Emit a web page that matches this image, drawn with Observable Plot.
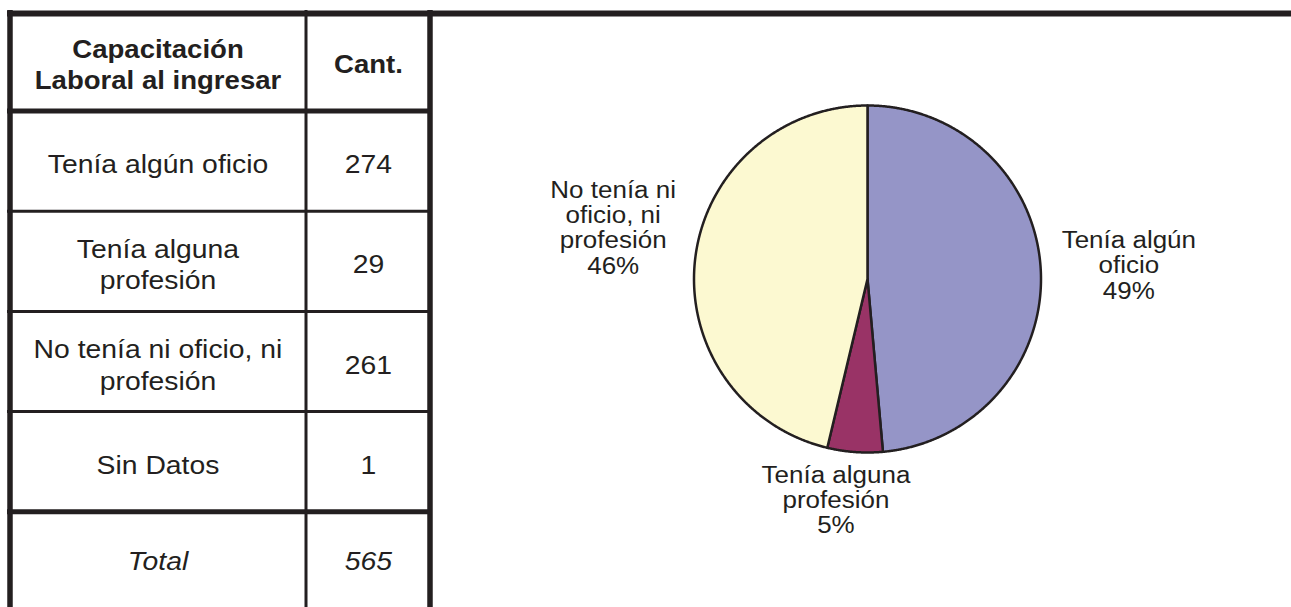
<!DOCTYPE html>
<html><head><meta charset="utf-8">
<script src="https://cdn.jsdelivr.net/npm/d3@7"></script>
<script src="https://cdn.jsdelivr.net/npm/@observablehq/plot@0.6"></script>
<style>html,body{margin:0;padding:0;background:#fff;overflow:hidden}</style>
</head><body><div id="chart"></div>
<script>
// ---- data ----
const headers = ["Capacitación\nLaboral al ingresar", "Cant."];
const categories = ["Tenía algún oficio", "Tenía alguna profesión", "No tenía ni oficio, ni profesión", "Sin Datos"];
const tableLabels = ["Tenía algún oficio", "Tenía alguna\nprofesión", "No tenía ni oficio, ni\nprofesión", "Sin Datos"];
const counts = [274, 29, 261, 1];
const totalLabel = "Total";
const total = 565;
const pieCategories = ["Tenía algún oficio", "Tenía alguna profesión", "No tenía ni oficio, ni profesión"];
const pieLabels = ["Tenía algún\noficio", "Tenía alguna\nprofesión", "No tenía ni\noficio, ni\nprofesión"];
const pieValues = [274, 29, 261];
const sliceColors = ["#9595C7", "#993366", "#FCF9D1"];

// ---- layout (positions & styles) ----
const W = 1291, H = 607;
const ink = "#231F20";
const T = {left: 9.5, mid: 305.5, right: 429.5, top: 13, header: 97.5, row: 100.2};
const P = {cx: 867, cy: 278.5, r: 173.5};
const labelNudge = [{dx: 88, dy: -6}, {dx: -19, dy: 48}, {dx: -82, dy: -31}];
const font = "Liberation Sans, Arial, Helvetica, sans-serif";
const headerStretch = 1.06, tableStretch = 1.09, pieStretch = 1.13;

// table row edges
const rowEdges = [T.top, T.top + T.header];
for (let i = 0; i < 5; i++) rowEdges.push(rowEdges[rowEdges.length - 1] + T.row);
const rowCenter = i => (rowEdges[i] + rowEdges[i + 1]) / 2;
const colCenter = [(T.left + T.mid) / 2, (T.mid + T.right) / 2 + 0.5];

const headerCells = headers.map((h, j) => ({text: h, x: colCenter[j], y: rowCenter(0) + 1}));
const bodyCells = [];
tableLabels.forEach((lab, i) => {
  bodyCells.push({text: lab, x: colCenter[0], y: rowCenter(i + 1) + 2});
  bodyCells.push({text: String(counts[i]), x: colCenter[1], y: rowCenter(i + 1) + 2});
});
const totalCells = [{text: totalLabel, x: colCenter[0], y: rowCenter(5)}, {text: String(total), x: colCenter[1], y: rowCenter(5)}];

// pie
const pieData = pieCategories.map((c, i) => ({cat: c, value: pieValues[i], label: pieLabels[i]}));
const arcs = d3.pie().sort(null).value(d => d.value)(pieData);
const pieSum = d3.sum(pieValues);
const polys = [];
arcs.forEach(a => {
  polys.push({cat: a.data.cat, x: P.cx, y: P.cy});
  const n = Math.max(4, Math.ceil((a.endAngle - a.startAngle) / 0.005));
  for (let k = 0; k <= n; k++) {
    const t = a.startAngle + (a.endAngle - a.startAngle) * k / n;
    polys.push({cat: a.data.cat, x: P.cx + P.r * Math.sin(t), y: P.cy - P.r * Math.cos(t)});
  }
  polys.push({cat: a.data.cat, x: P.cx, y: P.cy});
});
const labelData = arcs.map((a, i) => {
  const m = (a.startAngle + a.endAngle) / 2;
  return {
    text: a.data.label + "\n" + Math.round(a.data.value / pieSum * 100) + "%",
    x: P.cx + P.r * Math.sin(m) + labelNudge[i].dx,
    y: P.cy - P.r * Math.cos(m) + labelNudge[i].dy
  };
});

const hLines = [
  {y: T.top, x1: 7, x2: W, w: 6},
  {y: rowEdges[1], x1: 7, x2: T.right + 2.5, w: 5},
  {y: rowEdges[2], x1: 7, x2: T.right, w: 3},
  {y: rowEdges[3], x1: 7, x2: T.right, w: 3},
  {y: rowEdges[4], x1: 7, x2: T.right, w: 3},
  {y: rowEdges[5], x1: 7, x2: T.right + 2.5, w: 5}
];
const vLines = [
  {x: T.left, w: 5.5},
  {x: T.mid, w: 3},
  {x: T.right, w: 5.5}
];

const chart = Plot.plot({
  width: W, height: H,
  margin: 0,
  x: {domain: [0, W], range: [0, W], axis: null},
  y: {domain: [0, H], range: [0, H], axis: null},
  color: {domain: pieCategories, range: sliceColors},
  style: {fontFamily: font, background: "#fff"},
  marks: [
    Plot.line(polys, {x: "x", y: "y", z: "cat", fill: "cat", stroke: ink, strokeWidth: 2.5, strokeLinejoin: "round"}),
    Plot.ruleX(vLines, {x: "x", y1: 10, y2: H, stroke: ink, strokeWidth: "w"}),
    Plot.ruleY(hLines, {y: "y", x1: "x1", x2: "x2", stroke: ink, strokeWidth: "w"}),
    Plot.text(headerCells, {x: "x", y: "y", text: "text", fontSize: 26, fontWeight: "bold", lineHeight: 1.22, fill: ink, ariaDescription: "header-text"}),
    Plot.text(bodyCells, {x: "x", y: "y", text: "text", fontSize: 26, lineHeight: 1.22, fill: ink, ariaDescription: "table-text"}),
    Plot.text(totalCells, {x: "x", y: "y", text: "text", fontSize: 26, fontStyle: "italic", fill: ink, ariaDescription: "table-text"}),
    Plot.text(labelData, {x: "x", y: "y", text: "text", fontSize: 23, lineHeight: 1.1, fill: ink, ariaDescription: "pie-labels"})
  ]
});
function stretch(desc, k) {
  chart.querySelectorAll(`g[aria-description="${desc}"] text`).forEach(t => {
    t.setAttribute("transform", (t.getAttribute("transform") || "") + ` scale(${k},1)`);
  });
}
stretch("header-text", headerStretch);
stretch("table-text", tableStretch);
stretch("pie-labels", pieStretch);
document.getElementById("chart").appendChild(chart);
</script>
</body></html>
